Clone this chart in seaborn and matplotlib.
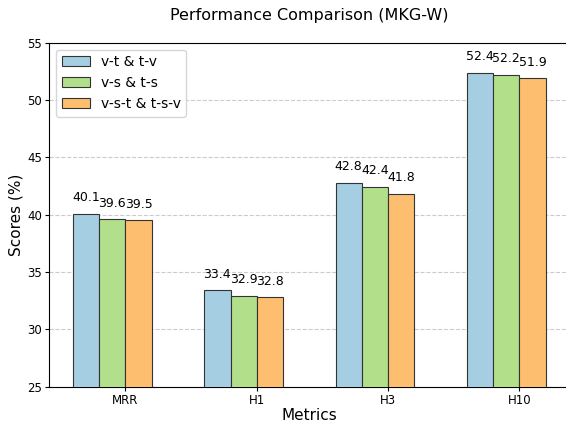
import matplotlib
matplotlib.use("Agg")
import matplotlib.pyplot as plt
import seaborn as sns
import pandas as pd

metrics = ["MRR", "H1", "H3", "H10"]
series_names = ["v-t & t-v", "v-s & t-s", "v-s-t & t-s-v"]
vals_vt = [40.1, 33.4, 42.8, 52.4]
vals_vs = [39.6, 32.9, 42.4, 52.2]
vals_vst = [39.5, 32.8, 41.8, 51.9]
colors = ["#a6cee3", "#b2df8a", "#fdbf6f"]

rows = []
for name, vals in zip(series_names, [vals_vt, vals_vs, vals_vst]):
    for m, v in zip(metrics, vals):
        rows.append({"Metrics": m, "Score": v, "Method": name})
df = pd.DataFrame(rows)

plt.rcParams['font.family'] = ['DejaVu Sans']
W, H = 566, 425
fig = plt.figure(figsize=(W / 100, H / 100), dpi=100)
ax = fig.add_axes([49.3 / W, 38.3 / H, 520 / W, 344 / H])
sns.barplot(data=df, x="Metrics", y="Score", hue="Method", palette=colors,
            saturation=1, width=0.6, edgecolor="#333333", linewidth=0.8,
            ax=ax, zorder=3)

for container in ax.containers:
    for bar in container:
        h = bar.get_height()
        ax.text(bar.get_x() + bar.get_width() / 2, h + 0.85, f"{h:.1f}",
                ha="center", va="bottom", fontsize=9)

ax.set_ylim(25, 55)
ax.set_xlim(-0.48, 3.48)
ax.set_xticks([i + 0.1 for i in range(len(metrics))])
ax.set_xticklabels(metrics)
ax.set_xlabel("Metrics", fontsize=11, labelpad=1)
ax.set_ylabel("Scores (%)", fontsize=11, labelpad=3)
ax.set_title("Performance Comparison (MKG-W)", fontsize=11.5, pad=16)
ax.tick_params(labelsize=8.5, pad=2.2, length=3)
ax.yaxis.grid(True, linestyle="--", color="#cccccc", linewidth=0.8, zorder=0)
ax.xaxis.grid(False)
ax.set_axisbelow(True)
ax.legend(loc="upper left", fontsize=10, frameon=True)
fig.savefig("out.png", dpi=100)
